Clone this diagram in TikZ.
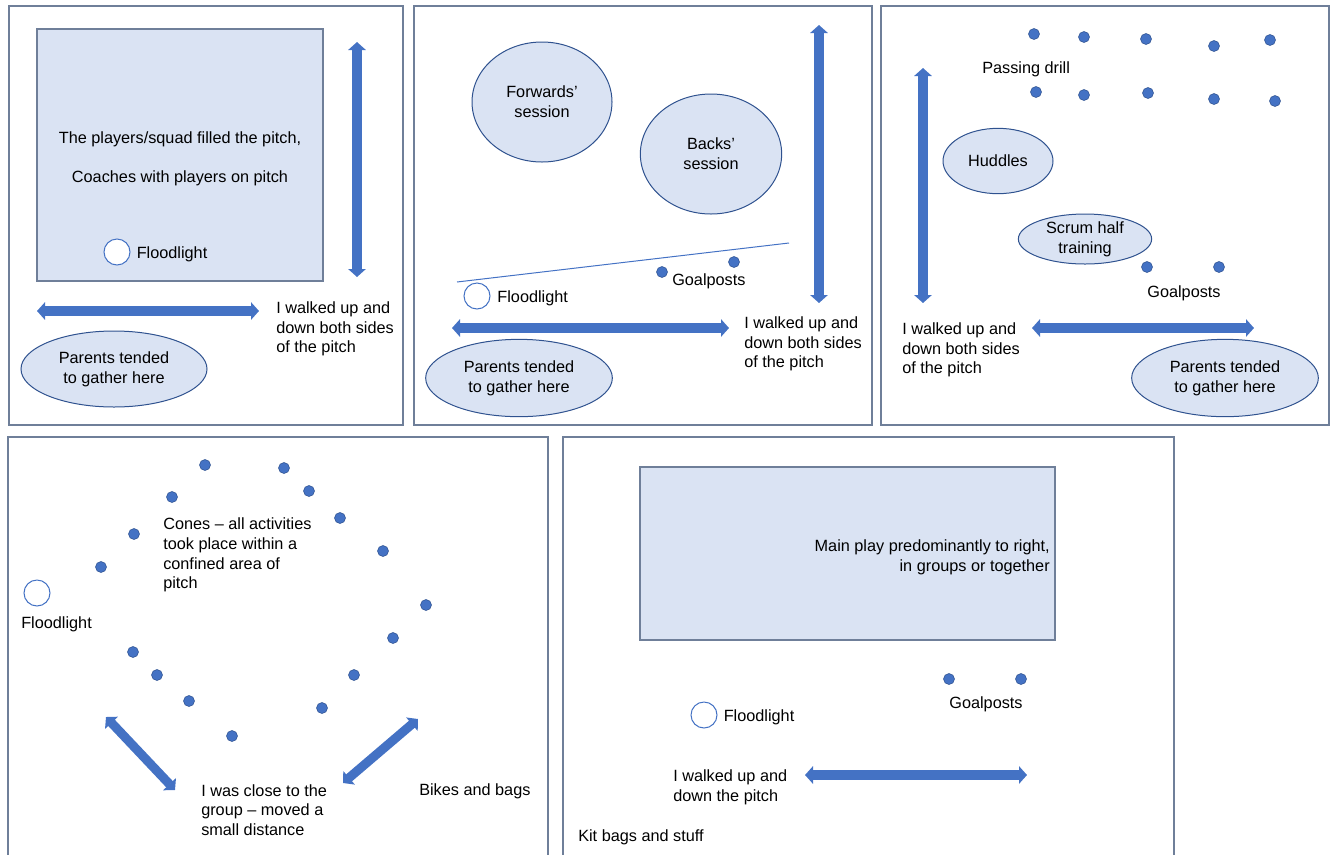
\documentclass[tikz,border=0pt]{standalone}
\usepackage{fontspec}
\setmainfont{Liberation Sans}
\usepackage{xcolor}
\usetikzlibrary{positioning, shapes.geometric, arrows.meta}

\definecolor{pitchfill}{HTML}{DAE3F3}
\definecolor{markblue}{HTML}{4472C4}
\definecolor{edgeblue}{HTML}{2F528F}
\definecolor{framegray}{HTML}{6F7F99}

\tikzset{
  panel/.style={draw=framegray, line width=1pt},
  pitch/.style={draw=framegray, fill=pitchfill, line width=0.9pt, inner sep=0pt, align=center},
  group/.style={ellipse, draw=edgeblue, fill=pitchfill, line width=0.75pt, inner sep=0pt, align=center},
  note/.style={inner sep=0pt, align=left, yshift=-1.5pt},
  lamp/.style={circle, draw=markblue, fill=white, line width=0.75pt, minimum size=19.5pt, inner sep=0pt},
  cone/.style={circle, draw=edgeblue, fill=markblue, line width=0.4pt, minimum size=8.25pt, inner sep=0pt},
  walk/.style={draw=markblue, line width=6.8pt, {Triangle[length=6pt,width=13pt]}-{Triangle[length=6pt,width=13pt]}},
}

\begin{document}
\begin{tikzpicture}[x=0.75pt, y=-0.75pt, font=\fontsize{12.2}{14.8}\selectfont]
\useasboundingbox (0,0) rectangle (1335,854);
\clip (0,0) rectangle (1335,854);

% whole squad
\draw[panel] (9,6) rectangle (403,425);
\node[pitch, minimum width=214.5pt, minimum height=189pt] (pitch1) at (180,155) {};
\node[note, align=center] (squad) at (180,157) {The players/squad filled the pitch,\\[14.8pt]Coaches with players on pitch};
\node[lamp] (lamp1) at (117,252) {};
\node[note, right=4.5pt of lamp1] (lamp1lab) {Floodlight};
\coordinate (up1) at (357,42);
\coordinate (dn1) at (357,277);
\draw[walk] (up1) -- (dn1);
\coordinate (lt1) at (37,311);
\coordinate (rt1) at (259,311);
\draw[walk] (lt1) -- (rt1);
\node[note, anchor=west] (walk1) at (276,327) {I walked up and\\down both sides\\of the pitch};
\node[group, minimum width=139.5pt, minimum height=57pt] (parents1) at (114,369) {Parents tended\\to gather here};

% forwards and backs
\draw[panel] (414,6) rectangle (872,425);
\node[group, minimum width=105pt, minimum height=90pt] (fwd) at (542,102) {Forwards’\\session};
\node[group, minimum width=106pt, minimum height=90pt] (backs) at (711,154) {Backs’\\session};
\coordinate (gl1) at (457,282);
\coordinate (gl2) at (789,243);
\draw[markblue, line width=0.75pt] (gl1) -- (gl2);
\node[cone] (gp2a) at (662,272) {};
\node[cone] (gp2b) at (734,262) {};
\node[note, anchor=west] (gp2lab) at (672,279) {Goalposts};
\node[lamp] (lamp2) at (477,296) {};
\node[note, right=5pt of lamp2] (lamp2lab) {Floodlight};
\coordinate (up2) at (819,25);
\coordinate (dn2) at (819,303);
\draw[walk] (up2) -- (dn2);
\coordinate (lt2) at (452,328);
\coordinate (rt2) at (729,328);
\draw[walk] (lt2) -- (rt2);
\node[note, anchor=west] (walk2) at (744,342) {I walked up and\\down both sides\\of the pitch};
\node[group, minimum width=140pt, minimum height=58pt] (parents2) at (519,378) {Parents tended\\to gather here};

% drills
\draw[panel] (881,6) rectangle (1329,425);
\foreach \x/\y [count=\i] in {1034/34, 1084/37, 1146/39, 1214/46, 1270/40}
  \node[cone] (pa\i) at (\x,\y) {};
\foreach \x/\y [count=\i] in {1036/92, 1084/95, 1148/93, 1214/99, 1275/101}
  \node[cone] (pb\i) at (\x,\y) {};
\node[note, anchor=west] (drill) at (982,67) {Passing drill};
\coordinate (up3) at (923,68);
\coordinate (dn3) at (923,303);
\draw[walk] (up3) -- (dn3);
\node[group, minimum width=82.5pt, minimum height=49pt] (huddle) at (998,161) {Huddles};
\node[group, minimum width=100pt, minimum height=37.5pt] (scrum) at (1085,239) {Scrum half\\training};
\node[cone] (gp3a) at (1147,267) {};
\node[cone] (gp3b) at (1219,267) {};
\node[note] (gp3lab) at (1184,291) {Goalposts};
\node[note, anchor=west] (walk3) at (902,348) {I walked up and\\down both sides\\of the pitch};
\coordinate (lt3) at (1032,328);
\coordinate (rt3) at (1254,328);
\draw[walk] (lt3) -- (rt3);
\node[group, minimum width=140pt, minimum height=58pt] (parents3) at (1225,378) {Parents tended\\to gather here};

% cones
\draw[panel] (8,870) -- (8,437) -- (548,437) -- (548,870);
\foreach \x/\y [count=\i] in {205/465, 284/468, 172/497, 309/491, 134/534, 340/518, 101/567, 383/551,
    426/605, 393/638, 133/652, 354/675, 157/675, 189/701, 322/708, 232/736}
  \node[cone] (cn\i) at (\x,\y) {};
\node[lamp] (lamp4) at (37,593) {};
\node[note, anchor=west] (lamp4lab) at (21,622) {Floodlight};
\node[note, anchor=west] (cones) at (163,553) {Cones – all activities\\took place within a\\confined area of\\pitch};
\coordinate (d1a) at (106,717);
\coordinate (d1b) at (175,790);
\draw[walk] (d1a) -- (d1b);
\coordinate (d2a) at (418,719);
\coordinate (d2b) at (343,783);
\draw[walk] (d2a) -- (d2b);
\node[note, anchor=west] (close) at (201,808) {I was close to the\\group – moved a\\small distance};
\node[note, anchor=west] (bikes) at (419,789) {Bikes and bags};

% main play
\draw[panel] (563,870) -- (563,437) -- (1174,437) -- (1174,870);
\node[pitch, minimum width=311.25pt, minimum height=129.75pt] (pitch5) at (847.5,553.5) {};
\node[note, align=right, anchor=east] (mainplay) at (1050,555) {Main play predominantly to right,\\in groups or together};
\node[cone] (gp5a) at (949,679) {};
\node[cone] (gp5b) at (1021,679) {};
\node[note] (gp5lab) at (986,702) {Goalposts};
\node[lamp] (lamp5) at (704,715) {};
\node[note, right=4.5pt of lamp5] (lamp5lab) {Floodlight};
\node[note, anchor=west] (walk5) at (673,785) {I walked up and\\down the pitch};
\coordinate (lt5) at (805,775);
\coordinate (rt5) at (1027,775);
\draw[walk] (lt5) -- (rt5);
\node[note, anchor=west] (kit) at (578,835) {Kit bags and stuff};
\end{tikzpicture}
\end{document}
